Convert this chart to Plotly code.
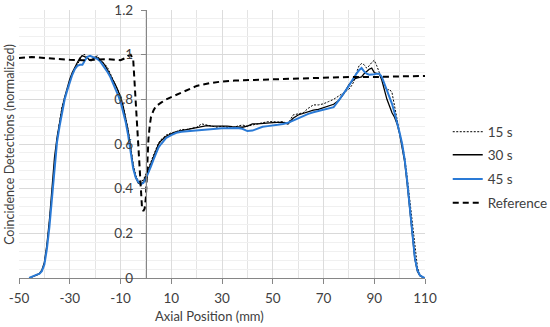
import plotly.graph_objects as go

# ---------------- data ----------------
x_profile = [-46, -45, -44, -43, -42, -41, -40, -39, -38, -37, -36, -35, -34, -33, -32, -31,
             -30, -29, -28, -27, -26, -25, -24, -23, -22, -21, -20, -19, -18, -17, -16, -15,
             -14, -13, -12, -11, -10, -9, -8, -7, -6, -5, -4, -3, -2, -1, 0, 1, 2, 3, 4, 5,
             6, 7, 8, 10, 12, 14, 16, 18, 20, 22, 24, 26, 28, 30, 32, 34, 36, 38, 40, 42, 44,
             46, 48, 50, 52, 54, 56, 58, 60, 62, 64, 66, 68, 70, 72, 74, 76, 78, 80, 81, 82,
             83, 84, 85, 86, 87, 88, 89, 90, 91, 92, 93, 94, 95, 96, 97, 98, 99, 100, 101,
             102, 103, 104, 105, 106, 107, 108, 109, 110]

y_15s = [0.0, 0.003, 0.008, 0.012, 0.018, 0.03, 0.065, 0.14, 0.25, 0.38, 0.52, 0.62, 0.70, 0.77,
         0.81, 0.84, 0.88, 0.915, 0.94, 0.955, 0.975, 1.0, 1.0, 0.985, 0.97, 0.975, 0.99, 0.995,
         0.975, 0.965, 0.955, 0.94, 0.915, 0.895, 0.87, 0.845, 0.815, 0.775, 0.725, 0.665, 0.59,
         0.51, 0.46, 0.435, 0.43, 0.44, 0.465, 0.49, 0.52, 0.55, 0.58, 0.605, 0.62, 0.63, 0.64,
         0.65, 0.655, 0.665, 0.665, 0.67, 0.675, 0.69, 0.685, 0.678, 0.675, 0.68, 0.675, 0.67,
         0.68, 0.685, 0.68, 0.685, 0.69, 0.695, 0.70, 0.70, 0.698, 0.70, 0.69, 0.73, 0.735, 0.74,
         0.76, 0.775, 0.775, 0.78, 0.79, 0.80, 0.815, 0.83, 0.845, 0.86, 0.88, 0.92, 0.95, 0.96,
         0.955, 0.94, 0.95, 0.965, 0.975, 0.95, 0.92, 0.90, 0.86, 0.84, 0.845, 0.83, 0.77, 0.70,
         0.65, 0.60, 0.54, 0.45, 0.35, 0.25, 0.13, 0.05, 0.015, 0.005, 0.0]

y_30s = [0.0, 0.004, 0.01, 0.014, 0.02, 0.035, 0.07, 0.15, 0.26, 0.40, 0.54, 0.63, 0.70, 0.76,
         0.81, 0.855, 0.89, 0.92, 0.945, 0.965, 0.985, 0.995, 0.99, 0.985, 0.975, 0.98, 0.99,
         0.985, 0.975, 0.965, 0.95, 0.93, 0.91, 0.89, 0.865, 0.84, 0.81, 0.77, 0.72, 0.66, 0.58,
         0.50, 0.45, 0.425, 0.42, 0.43, 0.455, 0.485, 0.515, 0.545, 0.575, 0.60, 0.615, 0.625,
         0.635, 0.645, 0.655, 0.66, 0.665, 0.668, 0.672, 0.678, 0.682, 0.68, 0.68, 0.682, 0.68,
         0.678, 0.677, 0.675, 0.68, 0.69, 0.69, 0.693, 0.695, 0.696, 0.697, 0.697, 0.69, 0.715,
         0.73, 0.738, 0.745, 0.752, 0.755, 0.762, 0.772, 0.778, 0.795, 0.825, 0.865, 0.88, 0.89,
         0.895, 0.898, 0.90, 0.915, 0.925, 0.935, 0.94, 0.92, 0.915, 0.915, 0.885, 0.84, 0.80,
         0.77, 0.74, 0.72, 0.69, 0.645, 0.59, 0.52, 0.42, 0.31, 0.19, 0.085, 0.03, 0.01, 0.004, 0.0]

y_45s = [0.0, 0.005, 0.012, 0.015, 0.018, 0.03, 0.06, 0.13, 0.23, 0.35, 0.50, 0.61, 0.68, 0.74,
         0.80, 0.84, 0.88, 0.91, 0.935, 0.95, 0.955, 0.955, 0.975, 0.99, 0.995, 0.99, 0.985,
         0.98, 0.97, 0.955, 0.94, 0.92, 0.90, 0.875, 0.85, 0.82, 0.79, 0.75, 0.70, 0.64, 0.56,
         0.49, 0.45, 0.43, 0.42, 0.425, 0.445, 0.47, 0.50, 0.53, 0.56, 0.585, 0.60, 0.615, 0.627,
         0.64, 0.65, 0.655, 0.657, 0.66, 0.66, 0.662, 0.665, 0.667, 0.668, 0.67, 0.67, 0.672,
         0.672, 0.668, 0.658, 0.66, 0.67, 0.677, 0.68, 0.682, 0.686, 0.69, 0.695, 0.705, 0.715,
         0.728, 0.735, 0.742, 0.748, 0.752, 0.758, 0.765, 0.795, 0.825, 0.86, 0.88, 0.90, 0.915,
         0.93, 0.94, 0.925, 0.915, 0.91, 0.91, 0.912, 0.915, 0.915, 0.90, 0.87, 0.84, 0.815,
         0.78, 0.74, 0.70, 0.65, 0.60, 0.53, 0.43, 0.32, 0.20, 0.09, 0.035, 0.012, 0.005, 0.0]

x_ref = [-50, -45, -40, -35, -30, -25, -20, -15, -10, -8, -7, -6, -5, -4, -3, -2, -1.5, -1,
         -0.5, 0, 0.5, 1, 1.5, 2, 3, 4, 6, 8, 10, 12, 15, 20, 25, 30, 35, 40, 50, 60, 70, 80,
         90, 100, 110]
y_ref = [0.985, 0.99, 0.985, 0.98, 0.977, 0.975, 0.978, 0.98, 0.975, 0.985, 0.995, 1.0, 0.98,
         0.78, 0.58, 0.38, 0.31, 0.30, 0.31, 0.36, 0.50, 0.62, 0.68, 0.72, 0.75, 0.77, 0.785,
         0.80, 0.81, 0.82, 0.835, 0.86, 0.872, 0.88, 0.884, 0.886, 0.89, 0.895, 0.897, 0.90,
         0.90, 0.903, 0.905]

x_ticks = [-50, -30, -10, 10, 30, 50, 70, 90, 110]
x_tick_labels = ["-50", "-30", "-10", "10", "30", "50", "70", "90", "110"]
y_ticks = [0, 0.2, 0.4, 0.6, 0.8, 1.0, 1.2]
y_tick_labels = ["0", "0.2", "0.4", "0.6", "0.8", "1", "1.2"]

series_names = ["15 s", "30 s", "45 s", "Reference"]

# ---------------- figure ----------------
FONT = "Lato, 'Open Sans', sans-serif"
TXT = "#404040"

fig = go.Figure()
fig.add_trace(go.Scatter(x=x_profile, y=y_15s, mode="lines", name=series_names[0],
                         line=dict(color="#000000", width=1, dash="2px,1.5px"),
                         legend="legend"))
fig.add_trace(go.Scatter(x=x_profile, y=y_30s, mode="lines", name=series_names[1],
                         line=dict(color="#000000", width=1.3), legend="legend2"))
fig.add_trace(go.Scatter(x=x_profile, y=y_45s, mode="lines", name=series_names[2],
                         line=dict(color="#2a7ad6", width=2), legend="legend3"))
fig.add_trace(go.Scatter(x=x_ref, y=y_ref, mode="lines", name=series_names[3],
                         line=dict(color="#000000", width=2, dash="6px,4px"),
                         legend="legend4"))

def leg(ypos):
    return dict(x=1.056, y=ypos, xanchor="left", yanchor="middle",
                font=dict(family=FONT, size=13.5, color=TXT),
                bgcolor="rgba(0,0,0,0)", borderwidth=0, itemwidth=30,
                tracegroupgap=0)

fig.update_layout(
    width=550, height=327,
    margin=dict(l=19, r=125, t=10, b=49, autoexpand=False),
    paper_bgcolor="white", plot_bgcolor="white",
    font=dict(family=FONT, size=13.5, color=TXT),
    showlegend=True,
    legend=leg(0.545), legend2=leg(0.459), legend3=leg(0.369), legend4=leg(0.280),
    xaxis=dict(
        range=[-50, 110], tickvals=x_ticks, ticktext=x_tick_labels,
        ticks="outside", ticklen=5, ticklabelstandoff=3,
        tickcolor="#868686", showline=True, linecolor="#868686", linewidth=1,
        showgrid=True, gridcolor="#dcdcdc", gridwidth=1, zeroline=False,
        minor=dict(dtick=10, tick0=-50, showgrid=True, gridcolor="#e4e4e4", ticks=""),
        tickfont=dict(size=13.5, color=TXT),
    ),
    yaxis=dict(
        range=[0, 1.2], tickvals=y_ticks, ticktext=y_tick_labels,
        ticks="outside", ticklen=5, ticklabelstandoff=5,
        tickcolor="#868686", showline=True, linecolor="#868686", linewidth=1,
        anchor="free", position=50 / 160, side="left",
        showgrid=True, gridcolor="#d9d9d9", gridwidth=1, zeroline=False,
        minor=dict(dtick=0.04, tick0=0, showgrid=True, gridcolor="#f0f0f0", ticks=""),
        tickfont=dict(size=13.5, color=TXT),
    ),
    annotations=[
        dict(text="Coincidence Detections (normalized)", textangle=-90,
             xref="paper", yref="paper", x=-0.025, y=0.5, xanchor="center", yanchor="middle",
             showarrow=False, font=dict(family=FONT, size=12.5, color=TXT)),
        dict(text="Axial Position (mm)",
             xref="paper", yref="paper", x=0.47, y=-0.142, xanchor="center", yanchor="middle",
             showarrow=False, font=dict(family=FONT, size=13, color=TXT)),
    ],
)

fig.write_html("out.html", config={"displayModeBar": False},
               post_script="document.body.style.margin='0';")
